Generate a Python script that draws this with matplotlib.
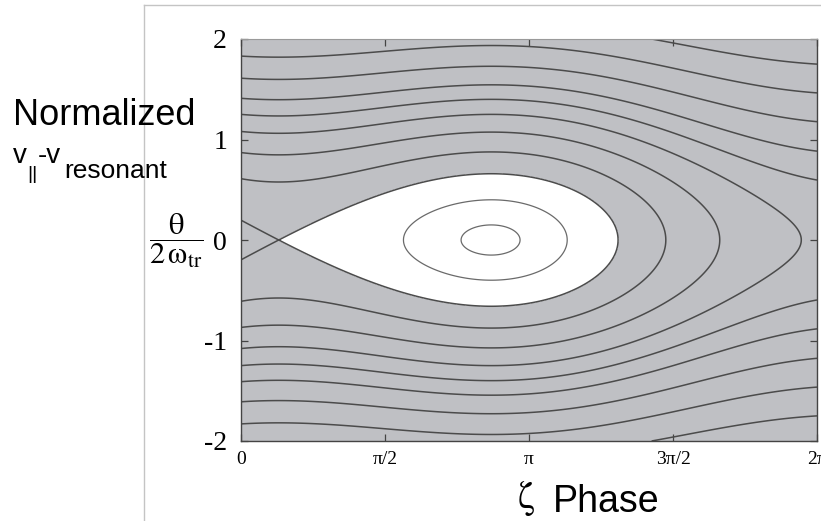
import numpy as np
import matplotlib.pyplot as plt
from matplotlib.lines import Line2D

plt.rcParams['mathtext.fontset'] = 'stix'
plt.rcParams['contour.negative_linestyle'] = 'solid'

W, H = 821, 521

# tilted cosine well: V = depth * (cos(zeta) + slope * (zeta - pi))
slope = 0.4
depth = 0.24

# where the drawn trajectories cross the edges / the centre (upper half, mirrored below)
left_theta = [0.61, 0.87, 1.08, 1.25, 1.41, 1.61, 1.83]
right_theta = [1.75]
orbit_theta = [0.15, 0.40]

xtick_pos = [0, np.pi / 2, np.pi, 3 * np.pi / 2, 2 * np.pi]
xtick_lab = ['0', 'π/2', 'π', '3π/2', '2π']
ytick_pos = [-2, -1, 0, 1, 2]
ytick_lab = ['-2', '-1', '0', '1', '2']

fill_grey = '#bfc0c4'
line_col = '#4b4b4b'


def potential(z):
    return depth * (np.cos(z) + slope * (z - np.pi))


def energy(z, th):
    return 0.5 * th ** 2 + potential(z)


z_x = np.arcsin(slope)        # hyperbolic point
z_o = np.pi - z_x             # elliptic point
h_sep = potential(z_x)

outer_levels = sorted([energy(0, t) for t in left_theta] +
                      [energy(2 * np.pi, t) for t in right_theta])
inner_levels = sorted([energy(z_o, t) for t in orbit_theta])

zz, tt = np.meshgrid(np.linspace(0, 2 * np.pi, 900), np.linspace(-2, 2, 700))
hh = energy(zz, tt)


def px(x, y):
    return x / W, 1 - y / H


fig = plt.figure(figsize=(W / 100, H / 100), dpi=100)
ax = fig.add_axes([241 / W, 1 - 441 / H, 576 / W, 402 / H])
ax.set_facecolor(fill_grey)

# trapped region (inside the separatrix, right of the X point) in white
inside = np.ma.masked_where(zz < z_x, hh)
ax.contourf(zz, tt, inside, levels=[hh.min() - 1, h_sep], colors='white')

ax.contour(zz, tt, hh, levels=outer_levels, colors=line_col, linewidths=1.1,
           linestyles='solid')
ax.contour(zz, tt, hh, levels=[h_sep], colors=line_col, linewidths=1.1,
           linestyles='solid')
ax.contour(zz, tt, hh, levels=inner_levels, colors='#6a6a6a', linewidths=0.9,
           linestyles='solid')

ax.set_xlim(0, 2 * np.pi)
ax.set_ylim(-2, 2)
ax.set_xticks(xtick_pos)
ax.set_xticklabels(xtick_lab, family='Liberation Serif', fontsize=14)
ax.set_yticks(ytick_pos)
ax.set_yticklabels(ytick_lab, family='Liberation Serif', fontsize=20)
ax.tick_params(axis='x', direction='in', length=5, width=0.9, color='#444444',
               top=True, pad=7)
ax.tick_params(axis='y', direction='in', length=5, width=0.9, color='#444444',
               right=True, pad=10)
for side in ['left', 'bottom', 'right']:
    ax.spines[side].set_color('#444444')
    ax.spines[side].set_linewidth(1.0)
ax.spines['top'].set_color('#9a9a9a')
ax.spines['top'].set_linewidth(0.8)

# thin frame round the panel
fig.add_artist(Line2D([144 / W, 144 / W], [0, 1 - 5 / H], transform=fig.transFigure,
                      color='#c4c4c4', lw=1.0))
fig.add_artist(Line2D([144 / W, 1], [1 - 5 / H, 1 - 5 / H], transform=fig.transFigure,
                      color='#c4c4c4', lw=1.0))

sans = 'Liberation Sans'
fig.text(*px(13, 125), 'Normalized', family=sans, fontsize=26, va='baseline')
fig.text(*px(13, 163), 'v', family=sans, fontsize=20, va='baseline')
fig.text(*px(27, 179), '||', family=sans, fontsize=14, va='baseline')
fig.text(*px(38, 163), '-v', family=sans, fontsize=20, va='baseline')
fig.text(*px(64, 178), 'resonant', family=sans, fontsize=19, va='baseline')

fig.text(*px(176, 241), r'$\dfrac{\mathrm{\theta}}{2\,\mathrm{\omega}_{\mathrm{tr}}}$',
         fontsize=22, ha='center', va='center')

fig.text(*px(517, 508), r'$\mathrm{\zeta}$', fontsize=28, va='baseline')
fig.text(*px(553, 512), 'Phase', family=sans, fontsize=27, va='baseline')

fig.savefig('out.png', dpi=100)
